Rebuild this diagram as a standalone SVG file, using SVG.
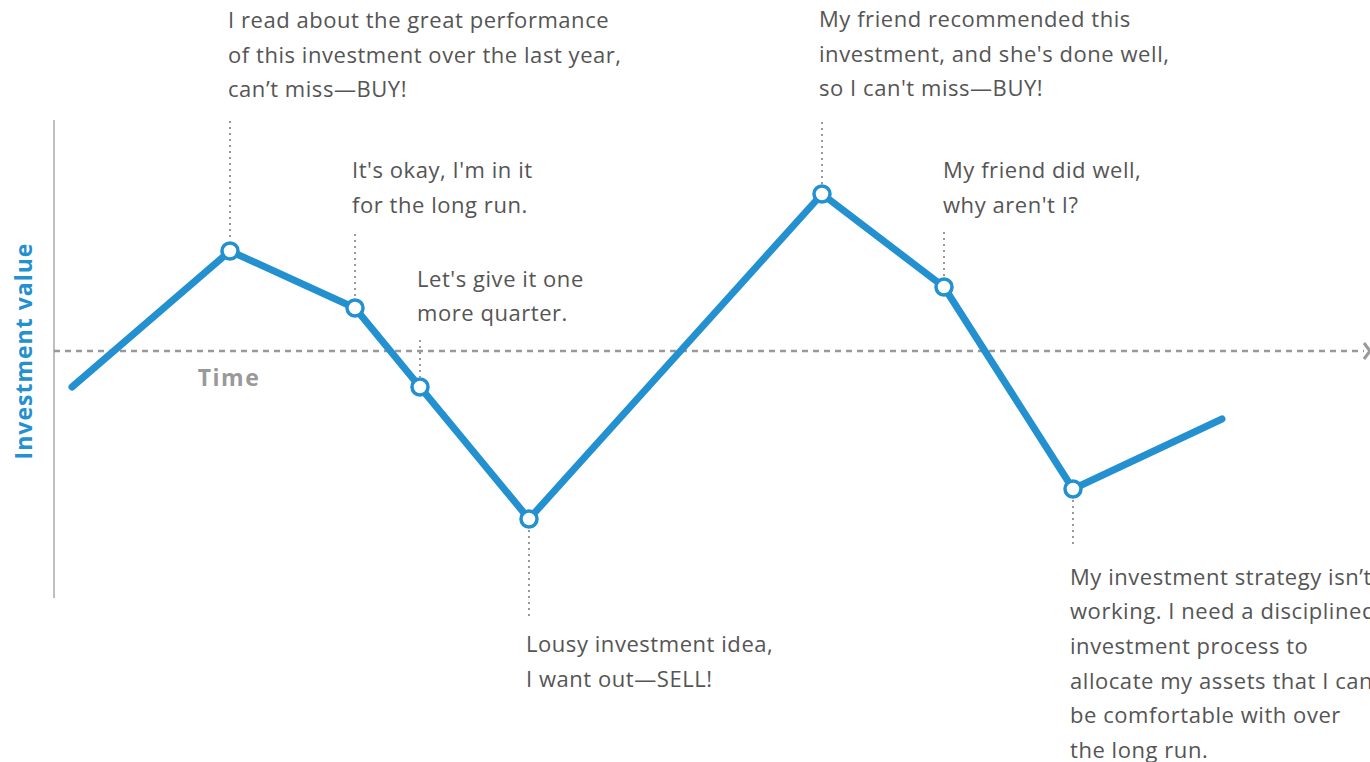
<svg xmlns="http://www.w3.org/2000/svg" width="1370" height="762" viewBox="0 0 1370 762">
<style>
.t{font-family:"Open Sans",sans-serif;font-size:22px;fill:#555;letter-spacing:0.55px}
.lead{stroke:#999;stroke-width:2;stroke-dasharray:2 4;fill:none}
.pt{fill:#fff;stroke:#2390d0;stroke-width:3.5}
</style>
<rect width="1370" height="762" fill="#fff"/>
<g id="axes">
<line x1="54" y1="120" x2="54" y2="598" stroke="#aaa" stroke-width="1.5"/>
<line x1="54" y1="351" x2="1364" y2="351" stroke="#999" stroke-width="2.5" stroke-dasharray="6 5"/>
<polyline points="1364,343 1370,351 1364,359" fill="none" stroke="#999" stroke-width="3"/>
<text x="229" y="386" text-anchor="middle" style="font-family:'Open Sans',sans-serif;font-size:23px;font-weight:bold;fill:#999;letter-spacing:1.5px">Time</text>
<text transform="translate(32,351) rotate(-90)" text-anchor="middle" style="font-family:'Open Sans',sans-serif;font-size:23px;font-weight:bold;fill:#2390d0;letter-spacing:1px">Investment value</text>
</g>
<g id="connectors">
<line class="lead" x1="230" y1="121" x2="230" y2="241"/>
<line class="lead" x1="355" y1="234" x2="355" y2="298"/>
<line class="lead" x1="420" y1="340" x2="420" y2="377"/>
<line class="lead" x1="529" y1="530" x2="529" y2="617"/>
<line class="lead" x1="822" y1="122" x2="822" y2="184"/>
<line class="lead" x1="944" y1="232" x2="944" y2="277"/>
<line class="lead" x1="1073" y1="500" x2="1073" y2="545"/>
<polyline points="72,387 230,251 355,308 420,387 529,519 822,194 944,287 1073,489 1222,419" fill="none" stroke="#2390d0" stroke-width="7" stroke-linecap="round" stroke-linejoin="round"/>
</g>
<g id="n1"><circle class="pt" cx="230" cy="251" r="8"/>
<text class="t" x="228" y="28">I read about the great performance</text>
<text class="t" x="228" y="63">of this investment over the last year,</text>
<text class="t" x="228" y="97">can’t miss—BUY!</text></g>
<g id="n2"><circle class="pt" cx="355" cy="308" r="8"/>
<text class="t" x="352" y="178">It's okay, I'm in it</text>
<text class="t" x="352" y="213">for the long run.</text></g>
<g id="n3"><circle class="pt" cx="420" cy="387" r="8"/>
<text class="t" x="417" y="287">Let's give it one</text>
<text class="t" x="417" y="321">more quarter.</text></g>
<g id="n4"><circle class="pt" cx="529" cy="519" r="8"/>
<text class="t" x="526" y="652">Lousy investment idea,</text>
<text class="t" x="526" y="687">I want out—SELL!</text></g>
<g id="n5"><circle class="pt" cx="822" cy="194" r="8"/>
<text class="t" x="819" y="27">My friend recommended this</text>
<text class="t" x="819" y="62">investment, and she's done well,</text>
<text class="t" x="819" y="96">so I can't miss—BUY!</text></g>
<g id="n6"><circle class="pt" cx="944" cy="287" r="8"/>
<text class="t" x="943" y="178">My friend did well,</text>
<text class="t" x="943" y="213">why aren't I?</text></g>
<g id="n7"><circle class="pt" cx="1073" cy="489" r="8"/>
<text class="t" x="1070" y="585">My investment strategy isn’t</text>
<text class="t" x="1070" y="619">working. I need a disciplined</text>
<text class="t" x="1070" y="654">investment process to</text>
<text class="t" x="1070" y="689">allocate my assets that I can</text>
<text class="t" x="1070" y="723">be comfortable with over</text>
<text class="t" x="1070" y="758">the long run.</text></g>
</svg>
